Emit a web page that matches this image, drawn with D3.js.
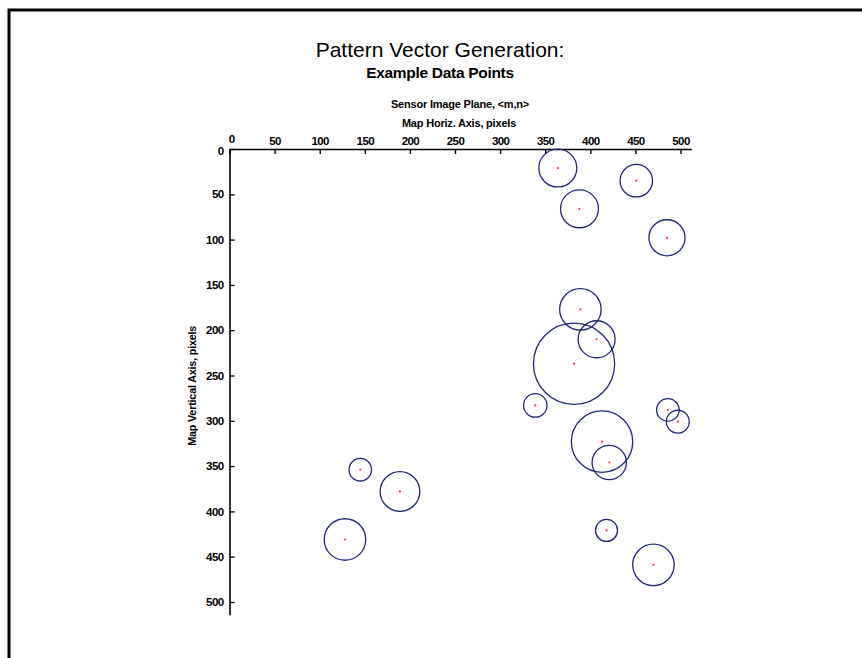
<!DOCTYPE html>
<html>
<head>
<meta charset="utf-8">
<script src="https://cdn.jsdelivr.net/npm/d3@7"></script>
<style>
  html, body { margin: 0; padding: 0; background: #fff; }
  svg { display: block; }
  .tick text { font-family: "Liberation Sans Narrow", "Liberation Sans", Arial, sans-serif; font-weight: bold; font-size: 11.5px; fill: #000; letter-spacing: -0.6px; }
</style>
</head>
<body>
<svg id="chart" width="862" height="658"></svg>
<script>
// Sensor image plane: sample points (m, n) and their pattern radii, in pixels
const pointM = [364, 451, 388, 485, 389, 407, 382, 339, 486, 497, 413, 421, 418, 470, 145, 189, 128];
const pointN = [21, 35, 66, 98, 177, 210, 237, 283, 288, 301, 323, 346, 421, 459, 354, 378, 431];
const pointR = [21, 18, 21, 20, 23, 20.5, 45, 13, 12.5, 12.7, 34, 19, 12.2, 23, 12.5, 22, 23];

const xTicks = [0, 50, 100, 150, 200, 250, 300, 350, 400, 450, 500];
const yTicks = [0, 50, 100, 150, 200, 250, 300, 350, 400, 450, 500];

const svg = d3.select("#chart");

// page frame
svg.append("path")
  .attr("d", "M9,658 V10 H862")
  .attr("fill", "none")
  .attr("stroke", "#000")
  .attr("stroke-width", 3);

const x = d3.scaleLinear().domain([0, 512]).range([229.5, 229.5 + 512 * 0.902]);
const y = d3.scaleLinear().domain([0, 514]).range([149, 149 + 514 * 0.906]);

// titles
const sans = "'Liberation Sans', Arial, sans-serif";
svg.append("text").attr("x", 440).attr("y", 57).attr("text-anchor", "middle")
  .attr("font-family", sans).attr("font-size", 21).text("Pattern Vector Generation:");
svg.append("text").attr("x", 440).attr("y", 78).attr("text-anchor", "middle")
  .attr("font-family", sans).attr("font-weight", "bold").attr("font-size", 15.5)
  .attr("letter-spacing", -0.3).text("Example Data Points");
svg.append("text").attr("x", 460).attr("y", 108).attr("text-anchor", "middle")
  .attr("font-family", sans).attr("font-weight", "bold").attr("font-size", 11)
  .attr("letter-spacing", -0.2).text("Sensor Image Plane, <m,n>");
svg.append("text").attr("x", 459).attr("y", 127).attr("text-anchor", "middle")
  .attr("font-family", sans).attr("font-weight", "bold").attr("font-size", 11)
  .attr("letter-spacing", -0.2).text("Map Horiz. Axis, pixels");
svg.append("text")
  .attr("transform", `translate(196,${(y.range()[0] + y.range()[1]) / 2 + 4}) rotate(-90)`)
  .attr("text-anchor", "middle")
  .attr("font-family", sans).attr("font-weight", "bold").attr("font-size", 10.8)
  .attr("letter-spacing", -0.2)
  .text("Map Vertical Axis, pixels");

// axes (ticks point into the plot)
const gx = svg.append("g").attr("transform", `translate(0,${y(0)})`)
  .call(d3.axisTop(x).tickValues(xTicks).tickSizeInner(-5).tickSizeOuter(0).tickPadding(4));
const gy = svg.append("g").attr("transform", `translate(${x(0)},0)`)
  .call(d3.axisLeft(y).tickValues(yTicks).tickSizeInner(-5).tickSizeOuter(0).tickPadding(6));
[gx, gy].forEach(g => {
  g.select(".domain").attr("stroke", "#000").attr("stroke-width", 1.6);
  g.selectAll(".tick line").attr("stroke", "#000").attr("stroke-width", 1.4);
});
gx.selectAll(".tick text").attr("dy", "0");
gx.selectAll(".tick text").filter(d => d === 0).attr("dy", "-0.15em").attr("dx", "0.15em");
gy.selectAll(".tick text").filter(d => d === 0).attr("dy", "0.5em");

// data points
const pts = pointM.map((m, i) => ({ m, n: pointN[i], r: pointR[i] }));
const g = svg.append("g");
g.selectAll("circle.ring").data(pts).join("circle")
  .attr("class", "ring")
  .attr("cx", d => x(d.m)).attr("cy", d => y(d.n))
  .attr("r", d => x(d.r) - x(0))
  .attr("fill", "none").attr("stroke", "#1f2878").attr("stroke-width", 1.3);
g.selectAll("circle.dot").data(pts).join("circle")
  .attr("class", "dot")
  .attr("cx", d => x(d.m)).attr("cy", d => y(d.n))
  .attr("r", 1.1).attr("fill", "#ff3a3a");
</script>
</body>
</html>
